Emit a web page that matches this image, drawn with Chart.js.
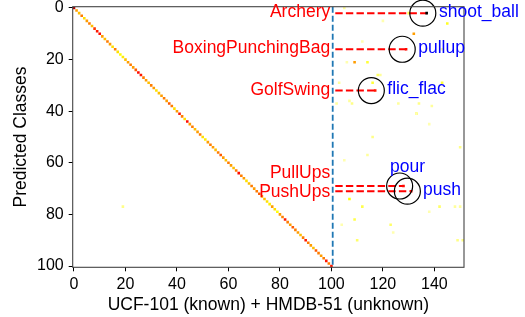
<!DOCTYPE html>
<html>
<head>
<meta charset="utf-8">
<script src="https://cdn.jsdelivr.net/npm/chart.js@4.4.1/dist/chart.umd.min.js"></script>
<style>
  html, body { margin: 0; padding: 0; background: #fff; }
  #chart { display: block; }
</style>
</head>
<body>
<canvas id="chart" width="525" height="317"></canvas>
<script>
// ---- data ----
const xTickValues = [0, 20, 40, 60, 80, 100, 120, 140];
const yTickValues = [0, 20, 40, 60, 80, 100];
const knownUnknownBoundary = 100.5;

// score on the diagonal, one per UCF-101 class (0..100)
const diagonalValues = [
  0.75, 0.40, 0.35, 0.45, 0.30, 0.40, 0.45, 0.35, 0.55, 0.60,
  0.62, 0.40, 0.35, 0.45, 0.40, 0.30, 0.45, 0.30, 0.25, 0.28,
  0.35, 0.40, 0.45, 0.40, 0.50, 0.62, 0.60, 0.45, 0.40, 0.35,
  0.45, 0.40, 0.30, 0.35, 0.40, 0.45, 0.40, 0.50, 0.45, 0.30,
  0.40, 0.60, 0.45, 0.30, 0.62, 0.40, 0.45, 0.35, 0.40, 0.45,
  0.30, 0.28, 0.40, 0.45, 0.40, 0.35, 0.45, 0.50, 0.40, 0.35,
  0.45, 0.40, 0.35, 0.45, 0.62, 0.45, 0.40, 0.30, 0.35, 0.45,
  0.40, 0.45, 0.50, 0.40, 0.35, 0.30, 0.28, 0.40, 0.30, 0.25,
  0.40, 0.45, 0.60, 0.45, 0.40, 0.50, 0.45, 0.40, 0.35, 0.45,
  0.60, 0.45, 0.40, 0.35, 0.50, 0.45, 0.40, 0.45, 0.60, 0.45,
  0.60
];

// scattered off-diagonal cells (column, row, score)
const offCols = [19, 105, 130, 145, 120, 132, 112, 109, 114, 106, 137, 143, 116, 119, 143, 103, 107, 118,
  102, 108, 126, 134, 139, 133, 138, 116, 150, 114, 105, 107, 112, 109, 104, 123, 124, 110, 138, 142, 148, 150, 149, 151, 133];
const offRows = [77, 0, 2, 6, 5, 10, 13, 21, 21, 21, 16, 16, 29, 26, 29, 29, 36, 26,
  37, 37, 37, 37, 38, 41, 45, 50, 54, 57, 59, 74, 77, 82, 84, 84, 87, 90, 79, 77, 77, 77, 90, 90, 41];
const offValues = [0.12, 0.10, 0.18, 0.22, 0.08, 0.40, 0.08, 0.40, 0.20, 0.08, 0.08, 0.10, 0.20, 0.10, 0.20, 0.10, 0.10, 0.15,
  0.10, 0.12, 0.10, 0.12, 0.10, 0.25, 0.08, 0.12, 0.12, 0.10, 0.08, 0.25, 0.18, 0.18, 0.08, 0.15, 0.08, 0.15, 0.08, 0.15, 0.10, 0.10, 0.12, 0.12, 0.08];

// highlighted confusions: known class row -> unknown class column
const knownNames = ['Archery', 'BoxingPunchingBag', 'GolfSwing', 'PullUps', 'PushUps'];
const knownRows = [2, 16, 32, 69, 71];
const unknownNames = ['shoot_ball', 'pullup', 'flic_flac', 'pour', 'push'];
const unknownCols = [137, 129, 117, 128, 131];
const confusionValues = [1.0, 0.62, 0.60, 0.62, 0.62];

// ---- colours ----
function hotR(v) {
  const t = 1 - v;
  const r = Math.min(1, t / 0.365);
  const g = Math.max(0, Math.min(1, (t - 0.365) / 0.381));
  const b = Math.max(0, Math.min(1, (t - 0.746) / 0.254));
  return `rgb(${Math.round(r * 255)},${Math.round(g * 255)},${Math.round(b * 255)})`;
}

const cells = [];
const cellColors = [];
diagonalValues.forEach((v, i) => { cells.push({ x: i, y: i }); cellColors.push(hotR(v)); });
offCols.forEach((c, i) => { cells.push({ x: c, y: offRows[i] }); cellColors.push(hotR(offValues[i])); });

const targetCells = unknownCols.map((c, i) => ({ x: c, y: knownRows[i] }));
const targetColors = confusionValues.map(hotR);

// text placement (pixel offsets relative to the marked cell / boundary)
const labelLayout = {
  redDy: [-1, -1.5, -0.5, -12.5, 0.5],
  blueX: [141.8, 133.7, 121.7, 122.8, 135.6],
  blueY: [1.6, 15.6, 31.6, 61.6, 70.8]
};

const datasets = [{
  label: 'cells',
  data: cells,
  pointStyle: 'rect',
  pointRadius: 1.83,
  pointBorderWidth: 0,
  backgroundColor: cellColors,
  order: 6
}, {
  label: 'boundary',
  data: [{ x: knownUnknownBoundary, y: -0.5 }, { x: knownUnknownBoundary, y: 100.5 }],
  showLine: true,
  borderColor: '#1f77b4',
  borderWidth: 1.8,
  borderDash: [6, 3],
  pointRadius: 0,
  order: 5
}];

knownRows.forEach((row, i) => {
  datasets.push({
    label: 'link ' + knownNames[i],
    data: [{ x: 101.5, y: row }, { x: unknownCols[i], y: row }],
    showLine: true,
    borderColor: '#ff0000',
    borderWidth: 2,
    borderDash: [7.4, 3.2],
    pointRadius: 0,
    order: 4
  });
});

datasets.push({
  label: 'targets',
  data: targetCells,
  pointStyle: 'rect',
  pointRadius: 1.83,
  pointBorderWidth: 0,
  backgroundColor: targetColors,
  order: 3
}, {
  label: 'rings',
  data: targetCells.map(p => ({ x: p.x - 1.5, y: p.y })),
  pointStyle: 'circle',
  pointRadius: 13,
  pointBorderWidth: 1.2,
  borderColor: '#000',
  backgroundColor: 'rgba(0,0,0,0)',
  clip: false,
  order: 2
});

const frameAndLabels = {
  id: 'frameAndLabels',
  afterDatasetsDraw(chart) {
    const { ctx, chartArea, scales: { x, y } } = chart;
    ctx.save();
    ctx.strokeStyle = '#444';
    ctx.lineWidth = 1.1;
    ctx.strokeRect(chartArea.left, chartArea.top, chartArea.right - chartArea.left, chartArea.bottom - chartArea.top);

    ctx.font = '17.5px "Liberation Sans", Arial, sans-serif';
    ctx.textBaseline = 'middle';
    ctx.fillStyle = '#ff0000';
    ctx.textAlign = 'right';
    const rx = x.getPixelForValue(knownUnknownBoundary) - 2.5;
    knownNames.forEach((name, i) => {
      ctx.fillText(name, rx, y.getPixelForValue(knownRows[i]) + labelLayout.redDy[i]);
    });
    ctx.fillStyle = '#0000ff';
    ctx.textAlign = 'left';
    unknownNames.forEach((name, i) => {
      ctx.fillText(name, x.getPixelForValue(labelLayout.blueX[i]), y.getPixelForValue(labelLayout.blueY[i]));
    });
    ctx.restore();
  }
};

Chart.defaults.font.family = '"Liberation Sans", Arial, sans-serif';
Chart.defaults.font.size = 16;
Chart.defaults.color = '#000';

new Chart(document.getElementById('chart').getContext('2d'), {
  type: 'scatter',
  data: { datasets: datasets },
  options: {
    responsive: false,
    animation: false,
    events: [],
    layout: { autoPadding: false, padding: { left: 0, top: 6.7, right: 61, bottom: 0 } },
    plugins: { legend: { display: false }, tooltip: { enabled: false } },
    scales: {
      x: {
        type: 'linear',
        min: -0.5,
        max: 151.5,
        afterBuildTicks: s => { s.ticks = xTickValues.map(v => ({ value: v })); },
        afterFit: s => { s.height = 49.7; s.paddingLeft = 0; s.paddingRight = 0; },
        ticks: { padding: 4, font: { size: 16 }, maxRotation: 0 },
        grid: { drawOnChartArea: false, drawTicks: true, tickLength: 4, color: '#000' },
        border: { display: false },
        title: { display: true, text: 'UCF-101 (known) + HMDB-51 (unknown)', font: { size: 17.5 }, padding: { top: 0, bottom: 1 } }
      },
      y: {
        type: 'linear',
        reverse: true,
        min: -0.5,
        max: 100.5,
        afterBuildTicks: s => { s.ticks = yTickValues.map(v => ({ value: v })); },
        afterFit: s => { s.width = 72.7; s.paddingTop = 0; s.paddingBottom = 0; },
        ticks: { padding: 5, font: { size: 16 } },
        grid: { drawOnChartArea: false, drawTicks: true, tickLength: 4, color: '#000' },
        border: { display: false },
        title: { display: true, text: 'Predicted Classes', font: { size: 17.5 }, padding: { top: 10.5, bottom: 0 } }
      }
    }
  },
  plugins: [frameAndLabels]
});
</script>
</body>
</html>
